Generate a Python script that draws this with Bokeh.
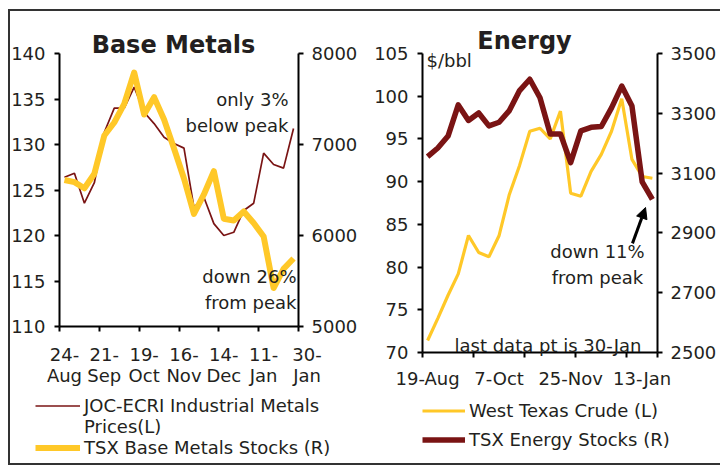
from bokeh.plotting import figure
from bokeh.models import (Range1d, LinearAxis, FixedTicker, Label, Legend, LegendItem,
                          Arrow, NormalHead, ColumnDataSource)
from bokeh.layouts import row
from bokeh.embed import file_html
from bokeh.resources import INLINE

FONT = "DejaVu Sans"
TEXT = "#231f20"
MAROON = "#7a1414"
GOLD = "#ffc828"
NB = "\u00a0"

# ---- Base Metals: weekly observations starting 24-Aug ----
metals_weeks = list(range(24))
joc_ecri = [126.4, 126.85, 123.55, 125.8, 131.35, 134.0, 134.0, 136.3, 133.55, 132.3,
            130.8, 130.1, 129.6, 123.1, 124.2, 121.3, 120.0, 120.35, 122.75, 123.55,
            129.05, 127.8, 127.4, 131.75]
tsx_base_metals = [6610, 6586, 6519, 6678, 7099, 7242, 7447, 7791, 7330, 7520,
                   7275, 6956, 6626, 6238, 6451, 6707, 6184, 6165, 6264, 6137,
                   5989, 5423, 5634, 5747]
metals_tick_pos = [0, 4, 8, 12, 16, 20, 23.5]
metals_tick_labels = ["24-\nAug", "21-\nSep", "19-\nOct", "16-\nNov", "14-\nDec", "11-\nJan",
                      NB * 3 + "30-\n" + NB * 3 + "Jan"]
metals_legend = ["JOC-ECRI Industrial Metals", "Prices(L)", "TSX Base Metals Stocks (R)"]

# ---- Energy: weekly observations starting 19-Aug ----
energy_weeks = list(range(23))
wti = [71.4, 74.0, 76.7, 79.2, 83.7, 81.7, 81.2, 83.7, 88.5, 91.9,
       95.9, 96.25, 95.0, 98.25, 88.65, 88.3, 91.2, 93.2, 95.9, 99.7,
       92.6, 90.6, 90.4]
tsx_energy = [3155, 3184, 3224, 3328, 3276, 3301, 3258, 3270, 3309, 3376,
              3414, 3352, 3231, 3231, 3135, 3241, 3253, 3256, 3318, 3391,
              3324, 3071, 3012]
energy_tick_pos = [0, 7, 14, 21]
energy_tick_labels = ["19-Aug", "7-Oct", "25-Nov", "13-Jan"]
energy_legend = ["West Texas Crude (L)", "TSX Energy Stocks (R)"]


def style_axis(ax, standoff):
    ax.axis_line_width = 2
    ax.axis_line_color = "black"
    ax.major_tick_line_width = 2
    ax.major_tick_line_color = "black"
    ax.major_tick_out = 5
    ax.major_tick_in = 0
    ax.minor_tick_line_color = None
    ax.major_label_text_font = FONT
    ax.major_label_text_font_size = "18px"
    ax.major_label_text_color = TEXT
    ax.major_label_standoff = standoff


def value_axis(ticks, at, standoff, **kw):
    ax = LinearAxis(ticker=FixedTicker(ticks=ticks), bounds=(ticks[0], ticks[-1]),
                    fixed_location=at, **kw)
    style_axis(ax, standoff)
    return ax


def category_axis(positions, labels, n, group, standoff, at):
    bounds = [b - 0.5 for b in range(0, n + 1, group)]
    if bounds[-1] != n - 0.5:
        bounds.append(n - 0.5)
    ax = LinearAxis(ticker=FixedTicker(ticks=positions, minor_ticks=bounds),
                    major_label_overrides={p: l for p, l in zip(positions, labels)},
                    bounds=(-0.5, n - 0.5), fixed_location=at)
    style_axis(ax, standoff)
    ax.major_label_text_line_height = 1.0
    ax.major_tick_line_color = None
    ax.major_tick_out = 0
    ax.minor_tick_line_color = "black"
    ax.minor_tick_line_width = 2
    ax.minor_tick_out = 5
    ax.minor_tick_in = 0
    return ax


def text_label(x, y, text, align="left", baseline="alphabetic", size="18px", bold=False):
    return Label(x=x, y=y, x_units="screen", y_units="screen", text=text,
                 text_align=align, text_baseline=baseline, text_font=FONT,
                 text_font_size=size, text_font_style="bold" if bold else "normal",
                 text_color=TEXT)


def key_legend(items, location, glyph_width, spacing):
    leg = Legend(items=items, location=location)
    leg.background_fill_alpha = 0
    leg.border_line_color = None
    leg.padding = 0
    leg.margin = 0
    leg.spacing = spacing
    leg.glyph_width = glyph_width
    leg.glyph_height = 21
    leg.label_height = 21
    leg.label_standoff = 4
    leg.label_text_font = FONT
    leg.label_text_font_size = "18px"
    leg.label_text_color = TEXT
    return leg


def stretch(lo, hi, px_lo, px_hi, edge_lo, edge_hi):
    """Range whose [lo, hi] lands on pixels [px_lo, px_hi] of a canvas spanning edge_lo..edge_hi."""
    k = (hi - lo) / (px_hi - px_lo)
    return Range1d(lo - (px_lo - edge_lo) * k, hi + (edge_hi - px_hi) * k)


def new_figure(width, height, x_range, y_range):
    p = figure(frame_width=width, frame_height=height, x_range=x_range, y_range=y_range,
               x_axis_type=None, y_axis_type=None, output_backend="svg",
               toolbar_location=None, min_border=0, min_border_left=0, min_border_right=0,
               min_border_top=0, min_border_bottom=0)
    p.outline_line_color = None
    p.background_fill_color = "white"
    p.border_fill_color = "white"
    return p


# ================= Base Metals (canvas 347 x 452) =================
# data area: x 49..288, y 42..315 from the canvas top-left
p1 = new_figure(347, 452, stretch(-0.5, 23.5, 49, 288, 0, 347),
                stretch(110, 140, 452 - 315, 452 - 42, 0, 452))
p1.extra_y_ranges = {"stocks": stretch(5000, 8000, 452 - 315, 452 - 42, 0, 452)}

p1.add_layout(value_axis(list(range(110, 141, 5)), -0.5, 9), "left")
p1.add_layout(value_axis(list(range(5000, 8001, 1000)), 23.5, 8, y_range_name="stocks"), "right")
p1.add_layout(category_axis(metals_tick_pos, metals_tick_labels, 24, 4, 12, 110), "below")

src_m = ColumnDataSource(dict(week=metals_weeks, joc=joc_ecri, tsx=tsx_base_metals))
r_joc = p1.line("week", "joc", source=src_m, line_color=MAROON, line_width=1.7)
r_tsxm = p1.line("week", "tsx", source=src_m, y_range_name="stocks", line_color=GOLD,
                 line_width=6, line_join="round")
r_wrap = p1.line(x=[], y=[], line_alpha=0)   # carries the wrapped second line of the key

p1.add_layout(key_legend([LegendItem(label=metals_legend[0], renderers=[r_joc]),
                          LegendItem(label=metals_legend[1], renderers=[r_wrap]),
                          LegendItem(label=metals_legend[2], renderers=[r_tsxm])],
                         (25, 5), 45, 0))

p1.add_layout(text_label(163, 419, "Base Metals", align="center", size="24px", bold=True))
p1.add_layout(text_label(278, 351, "only 3%\nbelow peak", align="right"))
p1.add_layout(text_label(286, 174, "down 26%\nfrom peak", align="right"))

# ================= Energy (canvas 363 x 452) =================
# data area: x 65..300, y 42..341 from the canvas top-left
p2 = new_figure(363, 452, stretch(-0.5, 22.5, 65, 300, 0, 363),
                stretch(70, 105, 452 - 341, 452 - 42, 0, 452))
p2.extra_y_ranges = {"stocks": stretch(2500, 3500, 452 - 341, 452 - 42, 0, 452)}

p2.add_layout(value_axis(list(range(70, 106, 5)), -0.5, 9), "left")
p2.add_layout(value_axis(list(range(2500, 3501, 200)), 22.5, 8, y_range_name="stocks"), "right")
p2.add_layout(category_axis(energy_tick_pos, energy_tick_labels, 23, 5, 10, 70), "below")

src_e = ColumnDataSource(dict(week=energy_weeks, wti=wti, tsx=tsx_energy))
r_wti = p2.line("week", "wti", source=src_e, line_color=GOLD, line_width=3.2)
r_tsxe = p2.line("week", "tsx", source=src_e, y_range_name="stocks", line_color=MAROON,
                 line_width=5.5, line_join="round")

p2.add_layout(key_legend([LegendItem(label=energy_legend[0], renderers=[r_wti]),
                          LegendItem(label=energy_legend[1], renderers=[r_tsxe])],
                         (65, 13), 43, 8))

p2.add_layout(text_label(167, 423, "Energy", align="center", size="24px", bold=True))
p2.add_layout(text_label(69, 403, "$/bbl"))
p2.add_layout(text_label(240, 199, "down 11%\nfrom peak", align="center"))
p2.add_layout(text_label(97, 118, "last data pt is 30-Jan"))
p2.add_layout(Arrow(end=NormalHead(size=11, fill_color="black", line_color="black"),
                    x_start=20.05, y_start=2865, x_end=21.33, y_end=2985,
                    y_range_name="stocks", line_color="black", line_width=3))

layout = row(p1, p2, margin=(9, 0, 0, 8),
             styles={"border-top": "2px solid #333333", "border-left": "2px solid #333333",
                     "border-bottom": "2px solid #333333"})

open("out.html", "w").write(file_html(layout, INLINE))
